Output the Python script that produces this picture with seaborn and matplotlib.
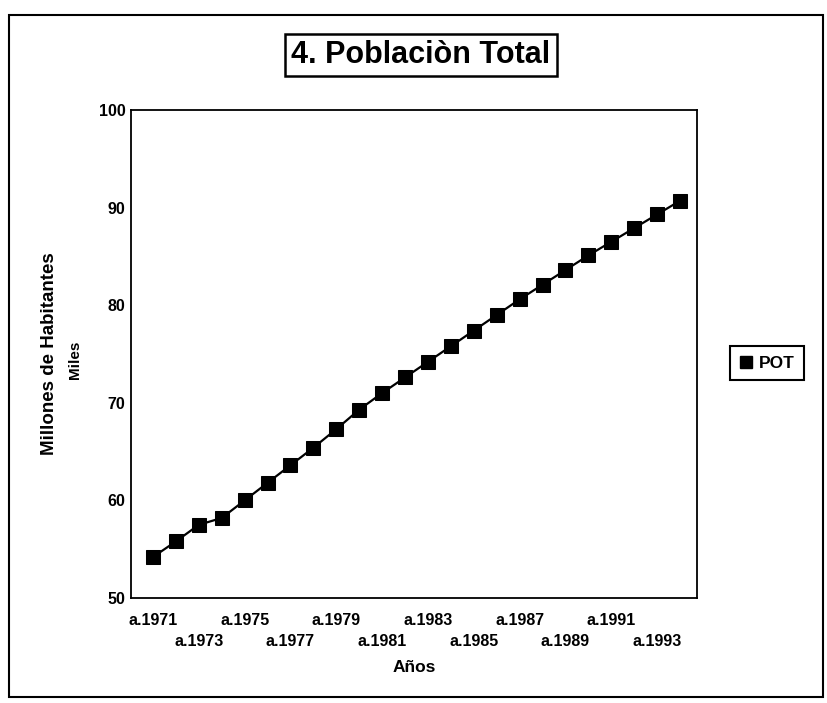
import matplotlib
matplotlib.use('Agg')
import matplotlib.pyplot as plt
import seaborn as sns
import pandas as pd
import numpy as np
from matplotlib.patches import Rectangle
from matplotlib.lines import Line2D

# ---- data ----
anios = ['a.1971', 'a.1972', 'a.1973', 'a.1974', 'a.1975', 'a.1976', 'a.1977', 'a.1978',
         'a.1979', 'a.1980', 'a.1981', 'a.1982', 'a.1983', 'a.1984', 'a.1985', 'a.1986',
         'a.1987', 'a.1988', 'a.1989', 'a.1990', 'a.1991', 'a.1992', 'a.1993', 'a.1994']
pot = [54.2, 55.8, 57.5, 58.2, 60.0, 61.8, 63.6, 65.4, 67.3, 69.3, 71.0, 72.6,
       74.2, 75.8, 77.4, 79.0, 80.6, 82.1, 83.6, 85.1, 86.5, 87.9, 89.3, 90.7]
serie = 'POT'
y_ticks = [50, 60, 70, 80, 90, 100]
titulo = '4. Poblaciòn Total'
x_titulo = 'Años'
y_titulo = 'Millones de Habitantes'
y_sub = 'Miles'

sns.set_style('white')
FAM = ['Liberation Sans Narrow', 'Liberation Sans', 'DejaVu Sans']
plt.rcParams['font.family'] = FAM
plt.rcParams['font.weight'] = 'bold'
plt.rcParams['text.color'] = 'black'
plt.rcParams['axes.labelcolor'] = 'black'
plt.rcParams['xtick.color'] = 'black'
plt.rcParams['ytick.color'] = 'black'

W, H = 828, 703
fig = plt.figure(figsize=(W / 100, H / 100), dpi=100)
fig.patch.set_facecolor('white')

left, right, top, bottom = 131, 697, 110, 598
ax = fig.add_axes([left / W, 1 - bottom / H, (right - left) / W, (bottom - top) / H])

pos = np.arange(len(anios))
df = pd.DataFrame({'pos': pos, serie: pot})
sns.lineplot(data=df, x='pos', y=serie, ax=ax, color='black', lw=1.6,
             marker='s', markersize=10, markeredgecolor='black', legend=False)

ax.set_xlim(-0.96, len(anios) - 1 + 0.74)
ax.set_ylim(y_ticks[0], y_ticks[-1])
ax.set_yticks(y_ticks)
ax.set_yticklabels([str(v) for v in y_ticks])

# staggered category labels: row 1 on major ticks, row 2 on minor ticks
major_pos = [i for i in pos if i % 4 == 0]
minor_pos = [i for i in pos if i % 4 != 0]
ax.set_xticks(major_pos)
ax.set_xticklabels([anios[i] for i in major_pos])
ax.set_xticks(minor_pos, minor=True)
ax.set_xticklabels([anios[i] if i % 4 == 2 else '' for i in minor_pos], minor=True)

ax.tick_params(axis='x', which='both', direction='in', length=5, width=1, labelsize=11.5)
ax.tick_params(axis='x', which='major', pad=11)
ax.tick_params(axis='x', which='minor', pad=26)
ax.tick_params(axis='y', direction='in', length=6, width=1, pad=4, labelsize=11.5)
for lab in ax.get_xticklabels(which='both') + ax.get_yticklabels():
    lab.set_fontweight('bold')
for s in ax.spines.values():
    s.set_visible(True)
    s.set_color('black')
    s.set_linewidth(1.3)
ax.set_facecolor('white')

ax.set_xlabel(x_titulo, fontsize=12.5, fontweight='bold', labelpad=8)
ax.set_ylabel('')

fig.text(50 / W, 1 - 354 / H, y_titulo, rotation=90, ha='center', va='center',
         fontsize=13.5, fontweight='bold')
fig.text(75 / W, 1 - 360 / H, y_sub, rotation=90, ha='center', va='center',
         fontsize=11, fontweight='bold')

fig.text(421 / W, 1 - 55 / H, titulo, ha='center', va='center', fontsize=22,
         fontweight='bold',
         bbox=dict(boxstyle='square,pad=0.2', fc='white', ec='black', lw=1.8))

handle = Line2D([], [], marker='s', color='black', linestyle='None', markersize=9)
leg = ax.legend(handles=[handle], labels=[serie], loc='center',
                bbox_to_anchor=(767 / W, 1 - 363 / H), bbox_transform=fig.transFigure,
                frameon=True, fancybox=False, edgecolor='black', fontsize=12.5,
                handlelength=0.8, handletextpad=0.3, borderpad=0.55, framealpha=1)
leg.get_frame().set_linewidth(1.5)
for t in leg.get_texts():
    t.set_fontweight('bold')

fig.add_artist(Rectangle((9 / W, 1 - 697 / H), (823 - 9) / W, (697 - 15) / H,
                         transform=fig.transFigure, fill=False, ec='black', lw=1.5))

fig.savefig('out.png', dpi=100)
